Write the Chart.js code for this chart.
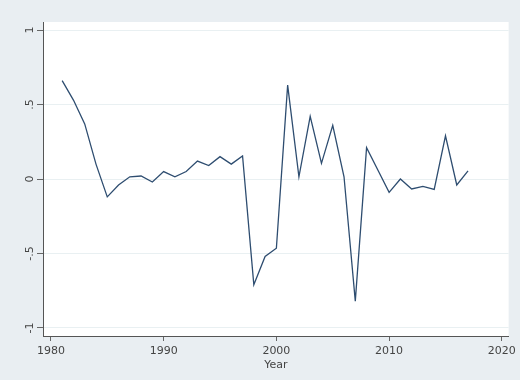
<!DOCTYPE html>
<html>
<head>
<meta charset="utf-8">
<script src="https://cdn.jsdelivr.net/npm/chart.js@4.4.1/dist/chart.umd.min.js"></script>
<style>
  html, body { margin: 0; padding: 0; background: #e9eef2; }
  #wrap { width: 520px; height: 380px; }
</style>
</head>
<body>
<div id="wrap"><canvas id="line-chart" width="520" height="380"></canvas></div>
<script>
// years 1981 - 2017
const years = [1981, 1982, 1983, 1984, 1985, 1986, 1987, 1988, 1989, 1990,
    1991, 1992, 1993, 1994, 1995, 1996, 1997, 1998, 1999, 2000,
    2001, 2002, 2003, 2004, 2005, 2006, 2007, 2008, 2009, 2010,
    2011, 2012, 2013, 2014, 2015, 2016, 2017];
const values = [0.66, 0.53, 0.37, 0.10, -0.12, -0.04, 0.015, 0.02, -0.02, 0.05,
    0.015, 0.05, 0.12, 0.09, 0.15, 0.10, 0.155, -0.71, -0.52, -0.465,
    0.63, 0.015, 0.42, 0.105, 0.36, 0.015, -0.82, 0.21, 0.06, -0.09,
    0.0, -0.067, -0.05, -0.07, 0.29, -0.04, 0.055];
const xTicks = [1980, 1990, 2000, 2010, 2020];
const yTicks = [-1, -0.5, 0, 0.5, 1];
const yTickLabels = ['-1', '-.5', '0', '.5', '1'];

// fond gris + zone du graphe blanche
const bgPlugin = {
    id: 'bg',
    beforeDraw(chart) {
        const { ctx, chartArea: a } = chart;
        ctx.save();
        ctx.fillStyle = '#e9eef2';
        ctx.fillRect(0, 0, chart.width, chart.height);
        ctx.fillStyle = '#ffffff';
        ctx.fillRect(a.left, a.top, a.right - a.left, a.bottom - a.top);
        ctx.restore();
    }
};

// labels verticaux de l'axe y (style Stata)
const yLabelPlugin = {
    id: 'ylabels',
    afterDraw(chart) {
        const { ctx } = chart;
        const y = chart.scales.y;
        ctx.save();
        ctx.fillStyle = '#444';
        ctx.font = '11px "DejaVu Sans", sans-serif';
        ctx.textAlign = 'center';
        ctx.textBaseline = 'middle';
        yTicks.forEach((v, i) => {
            const py = y.getPixelForValue(v);
            ctx.save();
            ctx.translate(30, py);
            ctx.rotate(-Math.PI / 2);
            ctx.fillText(yTickLabels[i], 0, 0);
            ctx.restore();
        });
        ctx.restore();
    }
};

new Chart(document.getElementById('line-chart'), {
    type: 'line',
    data: {
        datasets: [{
            data: years.map((yr, i) => ({ x: yr, y: values[i] })),
            borderColor: '#2e4d70',
            borderWidth: 1.3,
            pointRadius: 0,
            fill: false,
            tension: 0
        }]
    },
    options: {
        responsive: false,
        animation: false,
        layout: { padding: { top: 22, right: 10, bottom: 8, left: 0 } },
        plugins: {
            legend: { display: false },
            tooltip: { enabled: false }
        },
        scales: {
            x: {
                type: 'linear',
                min: 1979.3,
                max: 2020.6,
                afterBuildTicks: s => { s.ticks = xTicks.map(v => ({ value: v })); },
                afterFit: s => { s.height = 36; },
                grid: {
                    drawOnChartArea: false,
                    tickLength: 5,
                    tickColor: '#666'
                },
                border: { color: '#555', width: 1 },
                ticks: {
                    color: '#444',
                    padding: 4,
                    maxRotation: 0,
                    font: { size: 11, family: '"DejaVu Sans", sans-serif' },
                    callback: v => String(v)
                },
                title: {
                    display: true,
                    text: 'Year',
                    color: '#444',
                    padding: 0,
                    font: { size: 11, family: '"DejaVu Sans", sans-serif' }
                }
            },
            y: {
                min: -1.054,
                max: 1.054,
                afterBuildTicks: s => { s.ticks = yTicks.map(v => ({ value: v })); },
                afterFit: s => { s.width = 43; },
                grid: {
                    color: '#e9f0f2',
                    lineWidth: 1,
                    tickLength: 6,
                    tickColor: '#666'
                },
                border: { color: '#555', width: 1 },
                ticks: { display: false }
            }
        }
    },
    plugins: [bgPlugin, yLabelPlugin]
});
</script>
</body>
</html>
